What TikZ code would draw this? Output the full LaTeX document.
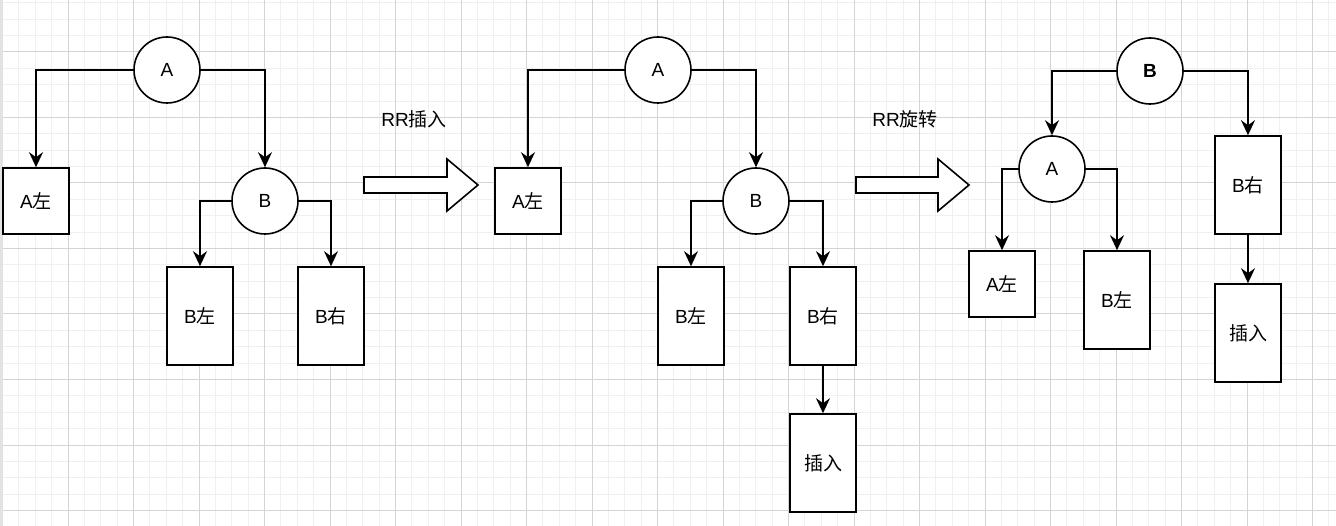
\documentclass[tikz,border=0pt]{standalone}
\usepackage{fontspec}
\setmainfont{Liberation Sans}
\newfontfamily\cjk{Noto Sans CJK SC}
\usetikzlibrary{positioning,arrows.meta}
\definecolor{minorgrid}{HTML}{F0F0F0}
\definecolor{majorgrid}{HTML}{D4D4D4}
\definecolor{leftstrip}{HTML}{E2E2E2}
\tikzset{node distance=2cm, on grid,
  inner/.style={draw,circle,minimum size=66pt,inner sep=0pt,line width=1.6pt,fill=white},
  leaf/.style={draw,rectangle,minimum width=66pt,minimum height=66pt,inner sep=0pt,line width=1.6pt,fill=white},
  tall/.style={leaf,minimum height=98pt},
  edge/.style={-{Stealth[length=15pt,width=14pt,inset=5pt]},line width=1.6pt},
  bigarrow/.style={draw,line width=1.6pt,fill=white,line join=miter}}

\begin{document}
\begin{tikzpicture}[x=1pt,y=-1pt,font=\fontsize{19pt}{23pt}\selectfont]
	\useasboundingbox (0,0) rectangle (1336,526);
	\fill[white] (0,0) rectangle (1336,526);
	% grid
	\foreach \i in {0,...,81}
		\draw[minorgrid,line width=1pt] ({2.5+16.375*\i},0) -- ++(0,526);
	\foreach \i in {0,...,33}
		\draw[minorgrid,line width=1pt] (2.5,{-13.5+16.375*\i}) -- ++(1334,0);
	\foreach \i in {0,...,20}
		\draw[majorgrid,line width=1pt] ({2.5+65.5*\i},0) -- ++(0,526);
	\foreach \i in {1,...,8}
		\draw[majorgrid,line width=1pt] (2.5,{-13.5+65.5*\i}) -- ++(1334,0);
	\fill[leftstrip] (0,0) rectangle (2.5,526);

	% before insertion
	\node[inner] (A1) at (167,70) {A};
	\node[leaf] (AL1) [below left=131pt and 131pt of A1] {A{\cjk 左}};
	\node[inner] (B1) [below right=131pt and 98pt of A1] {B};
	\node[tall] (BL1) [below left=115pt and 65pt of B1] {B{\cjk 左}};
	\node[tall] (BR1) [below right=115pt and 66pt of B1] {B{\cjk 右}};

	\draw[edge] (A1.west) -| (AL1.north);
	\draw[edge] (A1.east) -| (B1.north);
	\draw[edge] (B1.west) -| (BL1.north);
	\draw[edge] (B1.east) -| (BR1.north);

	\node (L1) at (414,119) {RR{\cjk 插入}};
	\draw[bigarrow] (364,177) -- (447,177) -- (447,159) -- (478,185) -- (447,211) -- (447,193) -- (364,193) -- cycle;

	% after insertion
	\node[inner] (A2) at (658,70) {A};
	\node[leaf] (AL2) [below left=131pt and 130pt of A2] {A{\cjk 左}};
	\node[inner] (B2) [below right=131pt and 98pt of A2] {B};
	\node[tall] (BL2) [below left=115pt and 65pt of B2] {B{\cjk 左}};
	\node[tall] (BR2) [below right=115pt and 67pt of B2] {B{\cjk 右}};
	\node[tall] (N2) [below=147pt of BR2] {\cjk 插入};

	\draw[edge] (A2.west) -| (AL2.north);
	\draw[edge] (A2.east) -| (B2.north);
	\draw[edge] (B2.west) -| (BL2.north);
	\draw[edge] (B2.east) -| (BR2.north);
	\draw[edge] (BR2) -- (N2);

	\node (L2) at (905,119) {RR{\cjk 旋转}};
	\draw[bigarrow] (856,177) -- (938,177) -- (938,159) -- (969,185) -- (938,211) -- (938,193) -- (856,193) -- cycle;

	% after rotation
	\node[inner] (B3) at (1150,71) {\textbf{B}};
	\node[inner] (A3) [below left=98pt and 98pt of B3] {A};
	\node[tall] (BR3) [below right=114pt and 98pt of B3] {B{\cjk 右}};
	\node[leaf] (AL3) [below left=115pt and 50pt of A3] {A{\cjk 左}};
	\node[tall] (BL3) [below right=131pt and 65pt of A3] {B{\cjk 左}};
	\node[tall] (N3) [below=148pt of BR3] {\cjk 插入};

	\draw[edge] (B3.west) -| (A3.north);
	\draw[edge] (B3.east) -| (BR3.north);
	\draw[edge] (A3.west) -| (AL3.north);
	\draw[edge] (A3.east) -| (BL3.north);
	\draw[edge] (BR3) -- (N3);
\end{tikzpicture}
\end{document}
